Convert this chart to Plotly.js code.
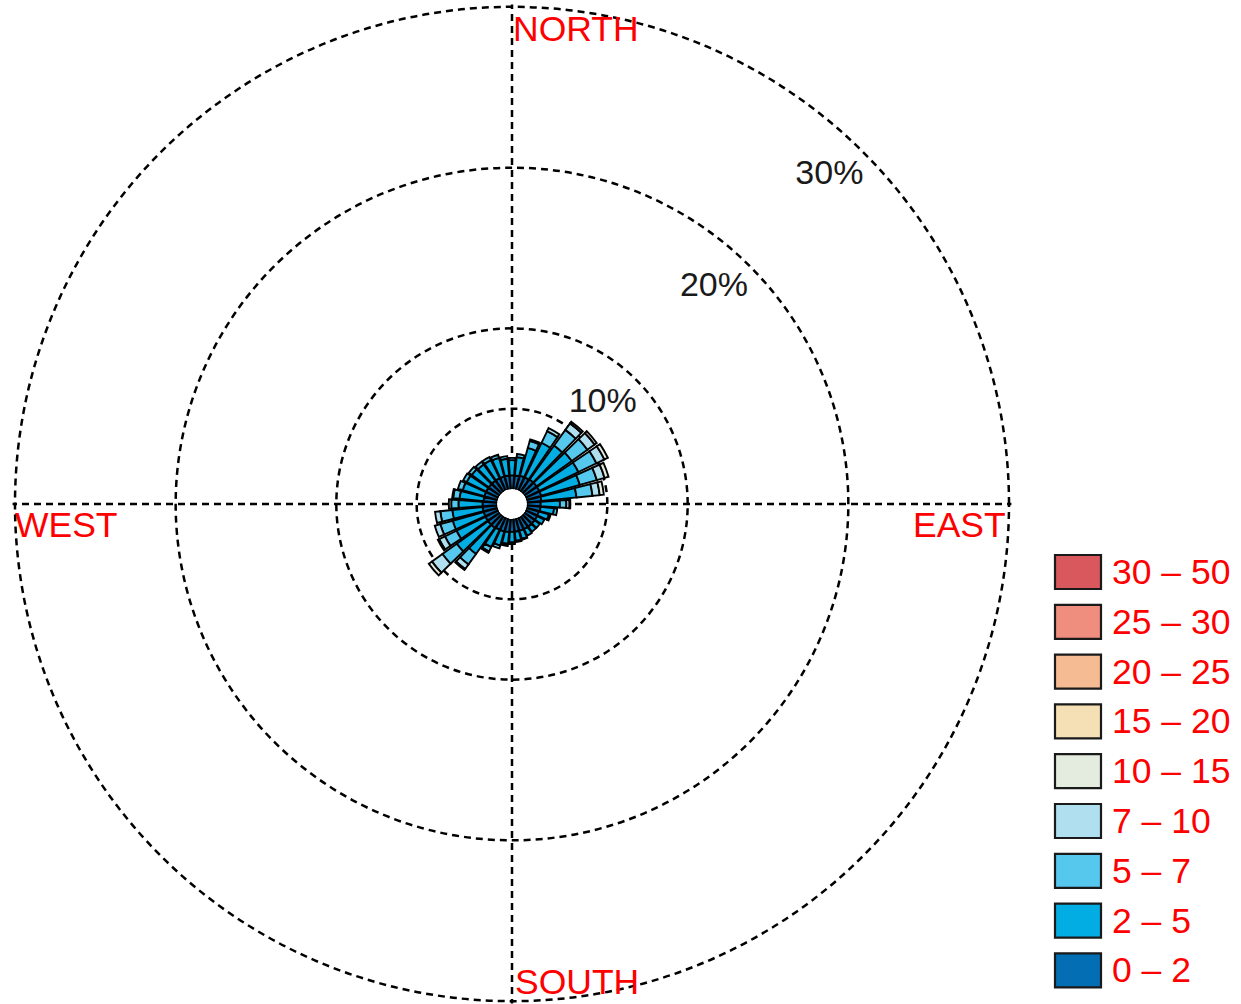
<!DOCTYPE html>
<html><head><meta charset="utf-8">
<script src="https://cdn.plot.ly/plotly-3.0.1.min.js"></script>
<style>html,body{margin:0;padding:0;background:#fff;} #chart{width:1241px;height:1004px;}</style>
</head><body><div id="chart"></div>
<script>
// wind directions (degrees, sector centres)
const directions = [0,10,20,30,40,50,60,70,80,90,100,110,120,130,140,150,160,170,180,190,200,210,220,230,240,250,260,270,280,290,300,310,320,330,340,350];
// speed bins (legend labels) and colours
const speedBins = ["0 – 2","2 – 5","5 – 7","7 – 10","10 – 15","15 – 20","20 – 25","25 – 30","30 – 50"];
const binColors = ["#036EB3","#02ADE4","#56C8EE","#B0E0EF","#E4ECDF","#F5E0B5","#F5BC93","#EF8E7E","#D9585D"];
// frequency (%) per direction for each speed bin
const freq_0_2   = [0.85,0.85,0.9,0.9,0.95,0.95,0.95,0.95,0.9,0.85,0.85,0.8,0.8,0.8,0.8,0.8,0.8,0.8,0.8,0.82,0.85,0.85,0.9,0.9,0.9,0.9,0.9,0.9,0.85,0.85,0.85,0.85,0.85,0.85,0.85,0.85];
const freq_2_5   = [0.95,1.15,1.8,2.4,2.6,2.7,2.7,2.5,2.2,1.2,0.85,0.65,0.5,0.39,0.39,0.45,0.52,0.57,0.66,0.75,0.9,1.2,2.0,2.4,2.0,2.0,1.9,1.5,1.5,1.4,1.35,1.3,1.25,1.25,1.2,1.05];
const freq_5_7   = [0.14,0.19,0.45,0.8,1.2,1.2,1.25,1.1,1.0,0.4,0.2,0.11,0,0,0,0,0.06,0.07,0.1,0.12,0.19,0.3,0.8,1.1,0.8,0.8,0.75,0.45,0.4,0.31,0.24,0.23,0.21,0.21,0.2,0.16];
const freq_7_10  = [0,0,0.1,0.21,0.5,0.55,0.55,0.5,0.45,0.2,0,0,0,0,0,0,0,0,0,0,0,0.09,0.35,0.8,0.4,0.36,0.33,0.15,0.06,0,0,0,0,0,0,0];
const freq_10_15 = [0,0,0,0,0.13,0.16,0.24,0.26,0.26,0.05,0,0,0,0,0,0,0,0,0,0,0,0,0.08,0.24,0.09,0,0,0,0,0,0,0,0,0,0,0];
const freq_15_20 = [];
const freq_20_25 = [];
const freq_25_30 = [];
const freq_30_50 = [];
const binFreqs = [freq_0_2,freq_2_5,freq_5_7,freq_7_10,freq_10_15,freq_15_20,freq_20_25,freq_25_30,freq_30_50];
// radial rings and labels
const ringValues = [5,10,20,30];
const ringLabels = ["10%","20%","30%"];
const ringLabelR = [7.5,17.5,27.5];
const ringLabelTheta = [42,43,44];
const cardinalLabels = ["NORTH","EAST","SOUTH","WEST"];

const gridColor = '#000';
const gridDash = '7px,5px';
const gridWidth = 2.5;
const traces = [];
binFreqs.forEach((arr, i) => {
  if (!arr.length || arr.every(v => !v)) return;
  traces.push({
    type: 'barpolar',
    name: speedBins[i],
    r: arr.map(v => v > 0 ? v : null),
    theta: directions,
    width: 8.5,
    marker: {color: binColors[i], line: {color: '#000', width: 1.9}},
    hoverinfo: 'skip',
    showlegend: false
  });
});
traces.push({
  type: 'scatterpolar', mode: 'text',
  r: ringLabelR, theta: ringLabelTheta, text: ringLabels,
  textfont: {family: 'Liberation Sans, Arial, sans-serif', size: 34, color: '#1a1a1a'},
  hoverinfo: 'skip', showlegend: false
});

const W = 1241, H = 1004;
const px = x => x / W, py = y => (H - y) / H;
const font = {family: 'Liberation Sans, Arial, sans-serif', size: 35.5, color: '#FF0000'};
const annotations = [
  {text: cardinalLabels[0], x: px(511), y: py(29), xanchor: 'left', yanchor: 'middle'},
  {text: cardinalLabels[1], x: px(1008), y: py(525), xanchor: 'right', yanchor: 'middle'},
  {text: cardinalLabels[2], x: px(513), y: py(982), xanchor: 'left', yanchor: 'middle'},
  {text: cardinalLabels[3], x: px(13), y: py(525), xanchor: 'left', yanchor: 'middle'}
].map(a => Object.assign(a, {xref: 'paper', yref: 'paper', showarrow: false, font: font}));

const shapes = [];
const n = speedBins.length;
for (let i = 0; i < n; i++) {
  const row = n - 1 - i;
  const top = 555 + row * 49.8;
  shapes.push({type: 'rect', xref: 'paper', yref: 'paper',
    x0: px(1055), x1: px(1101), y0: py(top), y1: py(top + 34),
    fillcolor: binColors[i], line: {color: '#1a1a1a', width: 2.2}});
  annotations.push({text: speedBins[i], xref: 'paper', yref: 'paper', x: px(1110), y: py(top + 17),
    xanchor: 'left', yanchor: 'middle', showarrow: false, font: font});
}

// polar frame: centre (512,504) px, 30% ring at radius 497 px, hole radius 15 px
const rMax = 30.15;
const outerPx = 15 + 482 * rMax / 30;
const cx = 512, cy = 504;
const layout = {
  width: W, height: H,
  margin: {l: 0, r: 0, t: 0, b: 0},
  paper_bgcolor: '#fff', plot_bgcolor: '#fff',
  showlegend: false,
  polar: {
    domain: {x: [(cx - outerPx) / W, (cx + outerPx) / W], y: [(H - cy - outerPx) / H, (H - cy + outerPx) / H]},
    hole: 15 / outerPx,
    bgcolor: '#fff',
    barmode: 'stack',
    radialaxis: {range: [0, rMax], tickvals: ringValues, showticklabels: false, ticks: '',
      showline: false, gridcolor: gridColor, gridwidth: gridWidth, griddash: gridDash, layer: 'below traces'},
    angularaxis: {rotation: 90, direction: 'clockwise', tickvals: [0, 90, 180, 270], showticklabels: false,
      ticks: '', showline: false, gridcolor: gridColor, gridwidth: gridWidth, griddash: gridDash, layer: 'below traces'}
  },
  annotations: annotations,
  shapes: shapes
};
Plotly.newPlot('chart', traces, layout, {displayModeBar: false, staticPlot: true});
</script>
</body></html>
